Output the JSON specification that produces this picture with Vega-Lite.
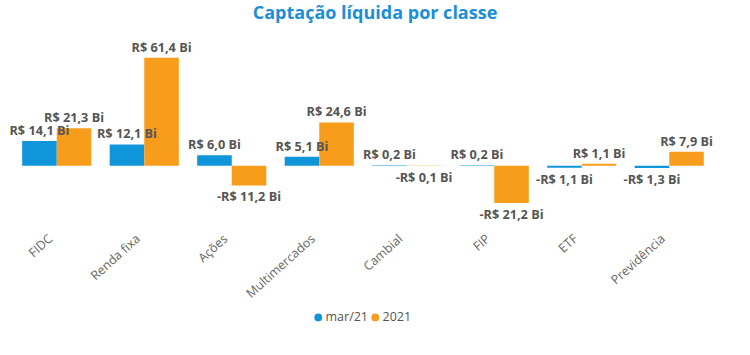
{
  "$schema": "https://vega.github.io/schema/vega-lite/v6.json",
  "width": 700,
  "height": 176,
  "autosize": {"type": "none"},
  "padding": {"left": 13, "top": 39, "right": 37, "bottom": 140},
  "background": "white",
  "config": {
    "view": {"stroke": null},
    "font": "Open Sans",
    "locale": {
      "number": {"decimal": ",", "thousands": ".", "grouping": [3], "currency": ["R$ ", " Bi"], "minus": "-"}
    }
  },
  "title": {
    "text": "Captação líquida por classe",
    "fontSize": 18,
    "fontWeight": "bold",
    "color": "#1A8FD6",
    "font": "Open Sans",
    "anchor": "middle",
    "dx": 12,
    "offset": 16
  },
  "data": {
    "values": [
      {"classe": "FIDC", "serie": "mar/21", "value": 14.1},
      {"classe": "FIDC", "serie": "2021", "value": 21.3},
      {"classe": "Renda fixa", "serie": "mar/21", "value": 12.1},
      {"classe": "Renda fixa", "serie": "2021", "value": 61.4},
      {"classe": "Ações", "serie": "mar/21", "value": 6.0},
      {"classe": "Ações", "serie": "2021", "value": -11.2},
      {"classe": "Multimercados", "serie": "mar/21", "value": 5.1},
      {"classe": "Multimercados", "serie": "2021", "value": 24.6},
      {"classe": "Cambial", "serie": "mar/21", "value": 0.2},
      {"classe": "Cambial", "serie": "2021", "value": -0.1},
      {"classe": "FIP", "serie": "mar/21", "value": 0.2},
      {"classe": "FIP", "serie": "2021", "value": -21.2},
      {"classe": "ETF", "serie": "mar/21", "value": -1.1},
      {"classe": "ETF", "serie": "2021", "value": 1.1},
      {"classe": "Previdência", "serie": "mar/21", "value": -1.3},
      {"classe": "Previdência", "serie": "2021", "value": 7.9}
    ]
  },
  "encoding": {
    "x": {
      "field": "classe",
      "type": "nominal",
      "sort": null,
      "scale": {"paddingInner": 0.21, "paddingOuter": 0.105},
      "axis": {
        "title": null,
        "labelAngle": -42,
        "labelFontSize": 12.5,
        "labelColor": "#666666",
        "labelFont": "Open Sans",
        "domain": false,
        "ticks": false,
        "labelPadding": 17,
        "labelOffset": -10
      }
    },
    "xOffset": {"field": "serie", "type": "nominal", "sort": ["mar/21", "2021"]},
    "y": {
      "field": "value",
      "type": "quantitative",
      "scale": {"domain": [-28, 72], "nice": false},
      "axis": null
    }
  },
  "layer": [
    {
      "mark": {"type": "bar"},
      "encoding": {
        "color": {
          "field": "serie",
          "type": "nominal",
          "scale": {"domain": ["mar/21", "2021"], "range": ["#0E95DA", "#F89C1C"]},
          "legend": {
            "title": null,
            "orient": "none",
            "legendX": 299,
            "legendY": 272,
            "direction": "horizontal",
            "symbolType": "circle",
            "symbolSize": 60,
            "labelFontSize": 12.5,
            "labelColor": "#555555",
            "labelFont": "Open Sans",
            "columnPadding": -2,
            "symbolOffset": 0,
            "labelOffset": 1
          }
        }
      }
    },
    {
      "transform": [{"filter": "datum.value >= 0"}],
      "mark": {"type": "text", "baseline": "bottom", "dy": -3, "fontSize": 12.7, "fontWeight": "bold", "color": "#555555"},
      "encoding": {"text": {"field": "value", "type": "quantitative", "format": "$.1f"}}
    },
    {
      "transform": [{"filter": "datum.value < 0"}],
      "mark": {"type": "text", "baseline": "top", "dy": 6, "fontSize": 12.7, "fontWeight": "bold", "color": "#555555"},
      "encoding": {"text": {"field": "value", "type": "quantitative", "format": "$.1f"}}
    }
  ]
}
